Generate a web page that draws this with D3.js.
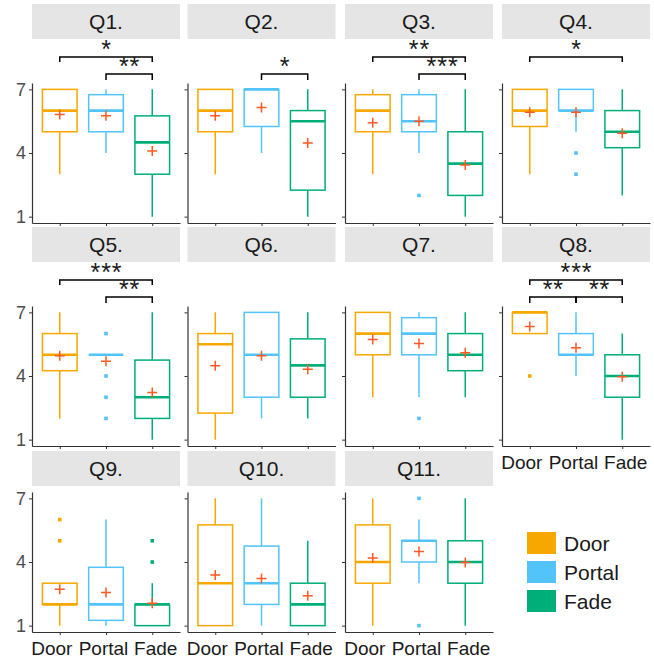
<!DOCTYPE html>
<html>
<head>
<meta charset="utf-8">
<script src="https://cdn.jsdelivr.net/npm/d3@7"></script>
<style>
  body { margin: 0; background: #ffffff; }
  svg { display: block; }
  text { font-family: "Liberation Sans", Arial, Helvetica, sans-serif; }
</style>
</head>
<body>
<script>
// ---- data ----------------------------------------------------------------
const questions = ["Q1.", "Q2.", "Q3.", "Q4.", "Q5.", "Q6.", "Q7.", "Q8.", "Q9.", "Q10.", "Q11."];
const groups = ["Door", "Portal", "Fade"];
const yTicks = [1, 4, 7];

// five-number summaries per question: [lower whisker, Q1, median, Q3, upper whisker]
const doorStats = [
  [3, 5, 6, 7, 7], [3, 5, 6, 7, 7], [3, 5, 6, 6.75, 7], [3, 5.25, 6, 7, 7],
  [2, 4.25, 5, 6, 7], [1, 2.25, 5.5, 6, 7], [3, 5, 6, 7, 7], [6, 6, 7, 7, 7],
  [1, 2, 2, 3, 3], [1, 1, 3, 5.75, 7], [1, 3, 4, 5.75, 7]
];
const portalStats = [
  [4, 5, 6, 6.75, 7], [4, 5.25, 7, 7, 7], [4, 5, 5.5, 6.75, 7], [5, 6, 6, 7, 7],
  [5, 5, 5, 5, 5], [2, 3, 5, 7, 7], [3, 5, 6, 6.75, 7], [4, 5, 5, 6, 7],
  [1, 1.25, 2, 3.75, 6], [1, 2, 3, 4.75, 7], [3, 4, 5, 5, 6]
];
const fadeStats = [
  [1, 3, 4.5, 5.75, 7], [1, 2.25, 5.5, 6, 7], [1, 2, 3.5, 5, 7], [2, 4.25, 5, 6, 7],
  [1, 2, 3, 4.75, 7], [2, 3, 4.5, 5.75, 7], [3, 4.25, 5, 6, 7], [1, 3, 4, 5, 6],
  [1, 1, 2, 2, 3], [1, 1, 2, 3, 5], [1, 3, 4, 5, 7]
];

// group means
const doorMeans   = [5.82, 5.76, 5.43, 5.92, 4.95, 4.48, 5.72, 6.33, 2.72, 3.39, 4.19];
const portalMeans = [5.76, 6.14, 5.50, 5.92, 4.70, 4.95, 5.53, 5.33, 2.56, 3.22, 4.50];
const fadeMeans   = [4.10, 4.47, 3.44, 4.93, 3.22, 4.32, 5.10, 3.97, 2.06, 2.41, 3.98];

// outlying responses
const doorOutliers   = [[], [], [], [], [], [], [], [4], [6, 5], [], []];
const portalOutliers = [[], [], [2], [4, 3], [6, 4, 3, 2], [], [2], [], [], [], [7, 1]];
const fadeOutliers   = [[], [], [], [], [], [], [], [], [5, 4], [], []];

// pairwise significance
const bracketQuestion = ["Q1.", "Q1.", "Q2.", "Q3.", "Q3.", "Q4.", "Q5.", "Q5.", "Q8.", "Q8.", "Q8."];
const bracketFrom     = ["Door", "Portal", "Portal", "Door", "Portal", "Door", "Door", "Portal", "Door", "Door", "Portal"];
const bracketTo       = ["Fade", "Fade", "Fade", "Fade", "Fade", "Fade", "Fade", "Fade", "Fade", "Portal", "Fade"];
const bracketLabel    = ["*", "**", "*", "**", "***", "*", "***", "**", "***", "**", "**"];

// ---- styling & layout ---------------------------------------------------
const colors = { Door: "#F7A800", Portal: "#52C4FA", Fade: "#00AE79" };
const meanColor = "#FF5A22";
const statsBy = { Door: doorStats, Portal: portalStats, Fade: fadeStats };
const meansBy = { Door: doorMeans, Portal: portalMeans, Fade: fadeMeans };
const outBy   = { Door: doorOutliers, Portal: portalOutliers, Fade: fadeOutliers };

const W = 654, H = 660;
const colLeft = [32, 187.5, 345, 502];
const plotTop = [83, 306, 492];
const stripTop = [4, 227, 451];
const pw = 148, ph = 140, stripH = 35;
const labelShift = { Door: -8.5, Portal: -3, Fade: 3 };

const svg = d3.select("body").append("svg")
  .attr("width", W).attr("height", H);

const x = d3.scalePoint().domain(groups).range([0, pw]).padding(0.6);
const boxW = x.step() * 0.75;

questions.forEach((q, qi) => {
  const row = Math.floor(qi / 4), col = qi % 4;
  const left = colLeft[col], top = plotTop[row];
  const y = d3.scaleLinear().domain([0.7, 7.3]).range([ph, 0]);

  // strip
  svg.append("rect")
    .attr("x", left).attr("y", stripTop[row])
    .attr("width", pw).attr("height", stripH)
    .attr("fill", "#E5E5E5");
  svg.append("text")
    .attr("x", left + pw / 2).attr("y", stripTop[row] + stripH / 2)
    .attr("dy", "0.36em")
    .attr("text-anchor", "middle")
    .attr("font-size", 21)
    .attr("fill", "#1a1a1a")
    .text(q);

  const g = svg.append("g").attr("transform", `translate(${left},${top})`);

  // boxes
  groups.forEach(grp => {
    const [lo, q1, med, q3, hi] = statsBy[grp][qi];
    const cx = x(grp), c = colors[grp];
    const bg = g.append("g").attr("stroke", c).attr("fill", "none");
    if (hi > q3) bg.append("line").attr("x1", cx).attr("x2", cx)
      .attr("y1", y(q3)).attr("y2", y(hi)).attr("stroke-width", 1.5);
    if (lo < q1) bg.append("line").attr("x1", cx).attr("x2", cx)
      .attr("y1", y(q1)).attr("y2", y(lo)).attr("stroke-width", 1.5);
    bg.append("rect")
      .attr("x", cx - boxW / 2).attr("y", y(q3))
      .attr("width", boxW).attr("height", Math.max(0, y(q1) - y(q3)))
      .attr("fill", "#ffffff").attr("stroke-width", 1.5);
    bg.append("line")
      .attr("x1", cx - boxW / 2).attr("x2", cx + boxW / 2)
      .attr("y1", y(med)).attr("y2", y(med))
      .attr("stroke-width", 2.6);
    outBy[grp][qi].forEach(v => {
      g.append("rect")
        .attr("x", cx - 1.8).attr("y", y(v) - 1.8)
        .attr("width", 3.6).attr("height", 3.6)
        .attr("fill", c);
    });
    const m = y(meansBy[grp][qi]);
    g.append("path")
      .attr("d", `M${cx - 5},${m}H${cx + 5}M${cx},${m - 5}V${m + 5}`)
      .attr("stroke", meanColor).attr("stroke-width", 1.5).attr("fill", "none");
  });

  // axes
  const ya = g.append("g").call(
    d3.axisLeft(y).tickValues(yTicks).tickFormat(d3.format("d"))
      .tickSize(3).tickSizeOuter(0).tickPadding(3));
  ya.select(".domain").attr("stroke", "#333").attr("stroke-width", 1.2);
  ya.selectAll(".tick line").attr("stroke", "#333");
  ya.selectAll(".tick text").attr("font-size", 18).attr("fill", "#4d4d4d")
    .attr("font-family", "Liberation Sans, Arial, sans-serif")
    .style("display", col === 0 ? null : "none");

  const xa = g.append("g").attr("transform", `translate(0,${ph})`)
    .call(d3.axisBottom(x).tickSize(3).tickSizeOuter(0));
  xa.select(".domain").attr("stroke", "#333").attr("stroke-width", 1.2);
  xa.selectAll(".tick line").attr("stroke", "#333");
  const showX = row === 2 || q === "Q8.";
  xa.selectAll(".tick text")
    .attr("font-size", 19).attr("fill", "#1a1a1a")
    .attr("font-family", "Liberation Sans, Arial, sans-serif")
    .attr("y", 23).attr("dy", "0")
    .attr("dx", d => labelShift[d])
    .style("display", showX ? null : "none");

  // significance brackets
  bracketQuestion.forEach((bq, bi) => {
    if (bq !== q) return;
    const a = x(bracketFrom[bi]), b = x(bracketTo[bi]);
    const upper = bracketFrom[bi] === "Door" && bracketTo[bi] === "Fade";
    const ly = upper ? -26 : -9;
    const tip = upper ? 5 : 6;
    g.append("path")
      .attr("d", `M${a},${ly + tip}V${ly}H${b}V${ly + tip}`)
      .attr("fill", "none").attr("stroke", "#000").attr("stroke-width", 1.5);
    g.append("text")
      .attr("x", (a + b) / 2 + 0.5).attr("y", ly + 1)
      .attr("text-anchor", "middle")
      .attr("font-size", 25).attr("letter-spacing", "1px")
      .attr("fill", "#1a1a1a")
      .text(bracketLabel[bi]);
  });
});

// legend
const legend = svg.append("g").attr("transform", "translate(527,532)");
groups.forEach((grp, i) => {
  legend.append("rect")
    .attr("x", 0).attr("y", i * 29)
    .attr("width", 29).attr("height", 22)
    .attr("fill", colors[grp]);
  legend.append("text")
    .attr("x", 37).attr("y", i * 29 + 11).attr("dy", "0.36em")
    .attr("font-size", 21).attr("fill", "#1a1a1a")
    .text(grp);
});
</script>
</body>
</html>
